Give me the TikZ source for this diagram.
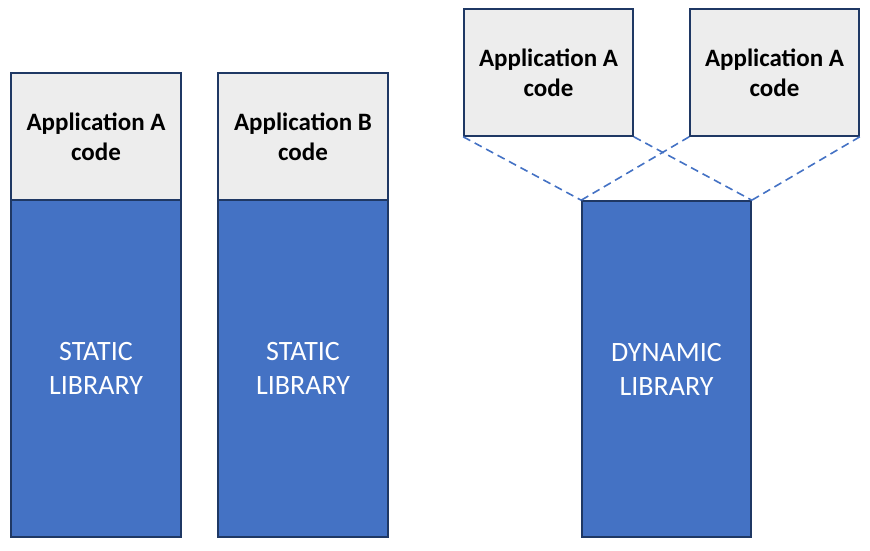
\documentclass[tikz,border=0pt]{standalone}
\usepackage{fontspec}
\setmainfont{Carlito}
\definecolor{navy}{HTML}{1F3864}
\definecolor{blu}{HTML}{4472C4}
\definecolor{lgray}{HTML}{EDEDED}
\begin{document}
\begin{tikzpicture}[x=1pt,y=-1pt,
  appbox/.style={draw=navy,line width=1.6pt,fill=lgray,text=black,align=center,font=\fontsize{25}{30}\selectfont\bfseries},
  libbox/.style={draw=navy,line width=1.6pt,fill=blu,text=white,align=center,font=\fontsize{28}{34}\selectfont},
  link/.style={draw=blu,dashed,line width=1.6pt,dash pattern=on 8pt off 5pt}]
\useasboundingbox (0,0) rectangle (870,551);
% static A
\node[libbox,minimum width=170,minimum height=337,inner sep=0] (sa) at (96,368.5) {STATIC\\LIBRARY};
\node[appbox,minimum width=170,minimum height=127,inner sep=0] (aa) at (96,136.5) {Application A\\code};
% static B
\node[libbox,minimum width=170,minimum height=337,inner sep=0] (sb) at (303,368.5) {STATIC\\LIBRARY};
\node[appbox,minimum width=170,minimum height=127,inner sep=0] (ab) at (303,136.5) {Application B\\code};
% dynamic
\node[libbox,minimum width=169,minimum height=336,inner sep=0] (dl) at (666.5,369) {DYNAMIC\\LIBRARY};
\node[appbox,minimum width=169,minimum height=127,inner sep=0] (d1) at (548.5,72.5) {Application A\\code};
\node[appbox,minimum width=169,minimum height=127,inner sep=0] (d2) at (774.5,72.5) {Application A\\code};
\draw[link] (d1.south west) -- (dl.north west);
\draw[link] (d1.south east) -- (dl.north east);
\draw[link] (d2.south west) -- (dl.north west);
\draw[link] (d2.south east) -- (dl.north east);
\end{tikzpicture}
\end{document}
